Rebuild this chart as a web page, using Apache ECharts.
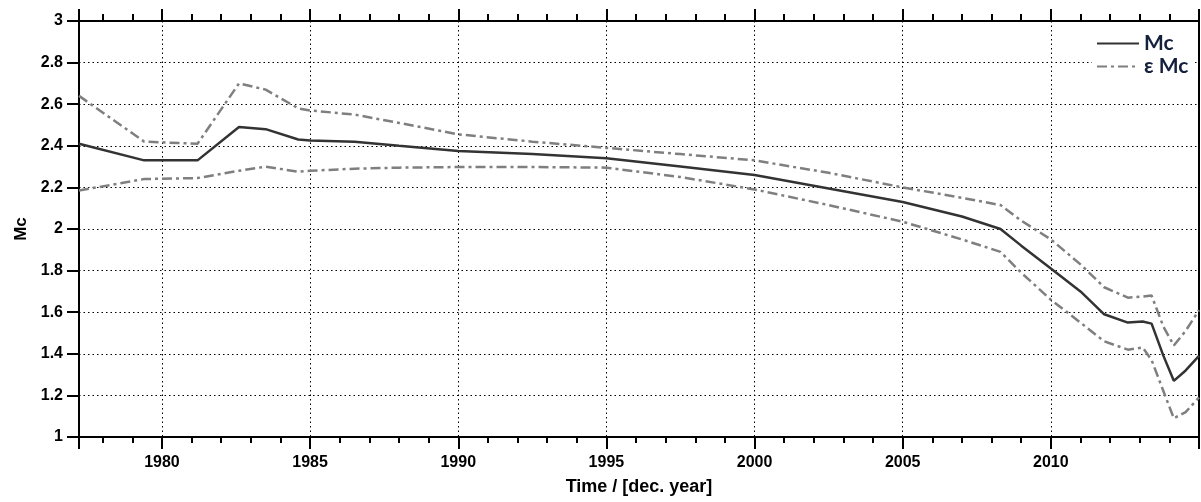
<!DOCTYPE html>
<html>
<head>
<meta charset="utf-8">
<script src="https://cdn.jsdelivr.net/npm/echarts@6/dist/echarts.min.js"></script>
<style>
  html, body { margin: 0; padding: 0; background: #fff; }
  #chart { width: 1201px; height: 502px; }
</style>
</head>
<body>
<div id="chart"></div>
<script>
// decimal years of the curve breakpoints
const years = [1977.2, 1979.4, 1981.2, 1982.6, 1983.5, 1984.6, 1985, 1986.5, 1988, 1990,
  1992.5, 1995, 1997.5, 2000, 2002.5, 2005, 2007, 2008.3, 2009, 2010,
  2011, 2011.8, 2012.6, 2013.1, 2013.4, 2013.8, 2014.15, 2014.55, 2015];

// Mc
const mc = [2.41, 2.33, 2.33, 2.49, 2.48, 2.43, 2.425, 2.42, 2.40, 2.375,
  2.36, 2.34, 2.30, 2.26, 2.195, 2.13, 2.06, 2.00, 1.92, 1.81,
  1.70, 1.59, 1.55, 1.555, 1.545, 1.39, 1.27, 1.32, 1.39];

// ε Mc, upper and lower bound
const mcUpper = [2.64, 2.42, 2.41, 2.70, 2.67, 2.58, 2.57, 2.55, 2.51, 2.455,
  2.42, 2.39, 2.36, 2.33, 2.27, 2.20, 2.15, 2.115, 2.04, 1.95,
  1.83, 1.72, 1.67, 1.675, 1.68, 1.53, 1.44, 1.51, 1.61];
const mcLower = [2.185, 2.24, 2.245, 2.28, 2.30, 2.275, 2.28, 2.29, 2.295, 2.298,
  2.298, 2.295, 2.25, 2.19, 2.115, 2.035, 1.95, 1.89, 1.79, 1.66,
  1.55, 1.46, 1.42, 1.43, 1.37, 1.22, 1.09, 1.12, 1.19];

const xMin = 1977.2, xMax = 2015;
const yMin = 1, yMax = 3, yStep = 0.2;

const pairs = vals => years.map((y, i) => [y, vals[i]]);

const chart = echarts.init(document.getElementById('chart'));

const labelFont = { fontFamily: 'Liberation Sans', fontWeight: 'bold', fontSize: 16, color: '#000' };
const dashDot = [10, 4, 3, 4];

chart.setOption({
  animation: false,
  grid: { left: 79, right: 2, top: 21, bottom: 65 },
  legend: {
    data: ['Mc', 'ε Mc'],
    orient: 'vertical',
    left: 1092,
    top: 28,
    itemWidth: 42,
    itemHeight: 14,
    itemGap: 2,
    padding: [5, 4, 5, 4],
    backgroundColor: '#fff',
    itemStyle: { opacity: 0 },
    textStyle: { fontFamily: 'Lato', fontWeight: 'bold', fontSize: 21, color: '#14203c', lineHeight: 20 }
  },
  xAxis: [{
    type: 'value',
    min: xMin,
    max: xMax,
    splitNumber: 8,
    name: 'Time / [dec. year]',
    nameLocation: 'middle',
    nameGap: 41,
    nameTextStyle: { fontFamily: 'Liberation Sans', fontWeight: 'bold', fontSize: 18, color: '#000' },
    axisLine: { lineStyle: { color: '#000', width: 2 } },
    axisTick: { length: 12, lineStyle: { color: '#000', width: 2 } },
    minorTick: { show: true, splitNumber: 5, length: 6, lineStyle: { color: '#000', width: 2 } },
    axisLabel: Object.assign({
      margin: 18, showMinLabel: false, showMaxLabel: false,
      formatter: v => String(Math.round(v))
    }, labelFont),
    splitLine: { show: true, lineStyle: { color: '#000', width: 1, type: [1.5, 3] } }
  }, {
    type: 'value',
    position: 'top',
    min: xMin,
    max: xMax,
    splitNumber: 8,
    axisLine: { lineStyle: { color: '#000', width: 2 } },
    axisTick: { length: 12, lineStyle: { color: '#000', width: 2 } },
    minorTick: { show: true, splitNumber: 5, length: 7, lineStyle: { color: '#000', width: 2 } },
    axisLabel: { show: false },
    splitLine: { show: false }
  }],
  yAxis: [{
    type: 'value',
    min: yMin,
    max: yMax,
    interval: yStep,
    name: 'Mc',
    nameLocation: 'middle',
    nameGap: 47,
    nameTextStyle: { fontFamily: 'Liberation Sans', fontWeight: 'bold', fontSize: 17, color: '#000' },
    axisLine: { show: true, lineStyle: { color: '#000', width: 2 } },
    axisTick: { show: true, length: 12, lineStyle: { color: '#000', width: 2 } },
    axisLabel: Object.assign({ margin: 16 }, labelFont),
    splitLine: { show: true, lineStyle: { color: '#000', width: 1, type: [1.5, 3] } }
  }, {
    type: 'value',
    position: 'right',
    min: yMin,
    max: yMax,
    interval: yStep,
    axisLine: { show: true, lineStyle: { color: '#000', width: 2 } },
    axisTick: { show: false },
    axisLabel: { show: false },
    splitLine: { show: false }
  }],
  series: [{
    name: 'Mc',
    type: 'line',
    data: pairs(mc),
    showSymbol: false,
    symbol: 'none',
    lineStyle: { color: '#333', width: 2.5 },
    itemStyle: { color: '#333' },
    z: 3
  }, {
    name: 'ε Mc',
    type: 'line',
    data: pairs(mcUpper),
    showSymbol: false,
    symbol: 'none',
    lineStyle: { color: '#7f7f7f', width: 2.5, type: dashDot },
    itemStyle: { color: '#7f7f7f' },
    z: 2
  }, {
    name: 'ε Mc',
    type: 'line',
    data: pairs(mcLower),
    showSymbol: false,
    symbol: 'none',
    lineStyle: { color: '#7f7f7f', width: 2.5, type: dashDot },
    itemStyle: { color: '#7f7f7f' },
    z: 2
  }]
});
</script>
</body>
</html>
